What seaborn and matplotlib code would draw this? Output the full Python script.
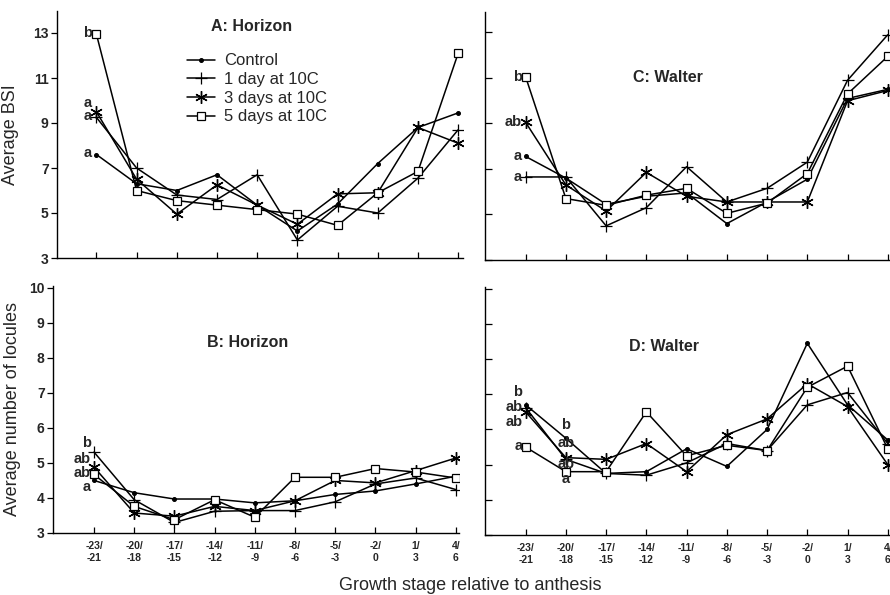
import numpy as np
import pandas as pd
import matplotlib
matplotlib.use("Agg")
import matplotlib.pyplot as plt
import seaborn as sns

# growth stage (days relative to anthesis)
stages = ["-23/\n-21", "-20/\n-18", "-17/\n-15", "-14/\n-12", "-11/\n-9",
          "-8/\n-6", "-5/\n-3", "-2/\n0", "1/\n3", "4/\n6"]
treatments = ["Control", "1 day at 10C", "3 days at 10C", "5 days at 10C"]

# A: Horizon, average BSI
horizon_bsi_control = [7.6, 6.3, 6.0, 6.7, 5.35, 4.2, 5.4, 7.2, 8.8, 9.45]
horizon_bsi_1day = [9.25, 7.0, 5.8, 5.6, 6.7, 3.8, 5.3, 5.0, 6.55, 8.7]
horizon_bsi_3day = [9.5, 6.5, 4.95, 6.25, 5.35, 4.5, 5.85, 5.9, 8.8, 8.1]
horizon_bsi_5day = [12.95, 6.0, 5.55, 5.35, 5.15, 4.95, 4.45, 5.9, 6.85, 12.1]

# C: Walter, average BSI
walter_bsi_control = [7.55, 6.6, 5.45, 5.8, 5.95, 4.6, 5.55, 6.55, 10.1, 10.5]
walter_bsi_1day = [6.65, 6.65, 4.5, 5.3, 7.1, 5.55, 6.15, 7.3, 10.9, 12.9]
walter_bsi_3day = [9.05, 6.3, 5.15, 6.85, 5.8, 5.55, 5.55, 5.55, 10.0, 10.45]
walter_bsi_5day = [11.05, 5.7, 5.4, 5.85, 6.15, 5.05, 5.5, 6.8, 10.3, 11.95]

# B: Horizon, average number of locules
horizon_loc_control = [4.5, 4.15, 3.97, 3.97, 3.86, 3.92, 4.1, 4.2, 4.4, 4.62]
horizon_loc_1day = [5.31, 3.95, 3.3, 3.62, 3.64, 3.64, 3.89, 4.4, 4.57, 4.24]
horizon_loc_3day = [4.88, 3.57, 3.48, 3.76, 3.64, 3.92, 4.5, 4.43, 4.78, 5.14]
horizon_loc_5day = [4.67, 3.76, 3.38, 3.95, 3.45, 4.59, 4.59, 4.84, 4.74, 4.57]

# D: Walter, average number of locules
walter_loc_control = [6.7, 5.75, 4.75, 4.8, 5.45, 4.95, 6.0, 8.45, 6.7, 5.7]
walter_loc_1day = [6.62, 5.15, 4.75, 4.7, 5.05, 5.6, 5.4, 6.7, 7.05, 5.6]
walter_loc_3day = [6.5, 5.2, 5.15, 5.6, 4.8, 5.85, 6.3, 7.3, 6.65, 5.0]
walter_loc_5day = [5.5, 4.8, 4.8, 6.5, 5.25, 5.55, 5.4, 7.2, 7.8, 5.45]

# mean separation letters
letters_A = [("b", 13.0), ("a", 9.9), ("a", 9.3), ("a", 7.65)]
letters_C = [("b", 11.05), ("ab", 9.05), ("a", 7.55), ("a", 6.65)]
letters_B = [("b", 5.58), ("ab", 5.1), ("ab", 4.7), ("a", 4.3)]
letters_D0 = [("b", 7.06), ("ab", 6.63), ("ab", 6.22), ("a", 5.54)]
letters_D1 = [("b", 6.12), ("ab", 5.62), ("ab", 5.02), ("a", 4.6)]

sns.set_theme(style="ticks")
plt.rcParams["font.family"] = ["Liberation Sans", "DejaVu Sans"]

styles = {
    "Control": dict(marker="o", markersize=2.8, markerfacecolor="black", markeredgecolor="black"),
    "1 day at 10C": dict(marker="+", markersize=9, markeredgewidth=0.9, markeredgecolor="black"),
    "3 days at 10C": dict(marker=(6, 2, 0), markersize=9, markeredgewidth=1.0, markeredgecolor="black"),
    "5 days at 10C": dict(marker="s", markersize=6, markerfacecolor="white", markeredgecolor="black",
                          markeredgewidth=0.9),
}

fig = plt.figure(figsize=(8.9, 5.95), dpi=100)


def px_axes(left, top, right, bottom):
    return fig.add_axes([left / 890, 1 - bottom / 595, (right - left) / 890, (bottom - top) / 595])


ax_a = px_axes(57, 10.5, 463, 258)
ax_c = px_axes(485, 12, 891, 260)
ax_b = px_axes(53, 286, 459, 533)
ax_d = px_axes(485, 287, 891, 535)

panels = [
    (ax_a, [horizon_bsi_control, horizon_bsi_1day, horizon_bsi_3day, horizon_bsi_5day], "A: Horizon"),
    (ax_c, [walter_bsi_control, walter_bsi_1day, walter_bsi_3day, walter_bsi_5day], "C: Walter"),
    (ax_b, [horizon_loc_control, horizon_loc_1day, horizon_loc_3day, horizon_loc_5day], "B: Horizon"),
    (ax_d, [walter_loc_control, walter_loc_1day, walter_loc_3day, walter_loc_5day], "D: Walter"),
]

x = np.arange(len(stages))
for ax, series, title in panels:
    df = pd.DataFrame({"stage": np.tile(x, 4),
                       "value": np.concatenate(series),
                       "treatment": np.repeat(treatments, len(x))})
    for t in treatments:
        sub = df[df["treatment"] == t]
        sns.lineplot(data=sub, x="stage", y="value", ax=ax, color="black", linewidth=1.1,
                     label=t, legend=False, **styles[t])
    sns.despine(ax=ax)
    for sp in ax.spines.values():
        sp.set_linewidth(1.0)
        sp.set_color("black")
    ax.set_xlabel("")
    ax.set_ylabel("")
    ax.set_xticks(x)
    ax.tick_params(axis="x", direction="in", length=4, width=0.9, color="black")
    ax.text(0.5, 0, title, transform=ax.transAxes, ha="center", va="center",
            fontsize=11.5, fontweight="bold")

# title positions (axes coords)
ax_a.texts[-1].set_position((0.48, 0.935))
ax_c.texts[-1].set_position((0.45, 0.735))
ax_b.texts[-1].set_position((0.48, 0.77))
ax_d.texts[-1].set_position((0.44, 0.76))

ax_a.set_xlim(-0.98, 9.12)
ax_c.set_xlim(-1.01, 9.08)
ax_b.set_xlim(-1.02, 9.08)
ax_d.set_xlim(-1.01, 9.08)
ax_a.set_ylim(3, 14)
ax_c.set_ylim(3, 13.9)
ax_b.set_ylim(3, 10.05)
ax_d.set_ylim(3, 10.05)

for ax in (ax_a, ax_c):
    ax.set_yticks([3, 5, 7, 9, 11, 13])
    ax.set_xticklabels([])
for ax in (ax_b, ax_d):
    ax.set_yticks(range(3, 11))
    ax.set_xticklabels(stages, fontsize=7.5, fontweight="bold", linespacing=1.25)
    ax.tick_params(axis="x", pad=6)

for ax in (ax_a, ax_b):
    ax.tick_params(axis="y", direction="out", length=4, width=0.9, pad=2, color="black",
                   labelsize=10)
    for lbl in ax.get_yticklabels():
        lbl.set_fontweight("bold")
for ax in (ax_c, ax_d):
    ax.tick_params(axis="y", direction="in", length=5, width=0.9, color="black", labelleft=False)

ax_a.set_ylabel("Average BSI", fontsize=13, labelpad=10)
ax_b.set_ylabel("Average number of locules", fontsize=13, labelpad=6)
fig.text(0.528, 1 - 585 / 595, "Growth stage relative to anthesis", ha="center", va="center",
         fontsize=13)


def letters(ax, xpos, items, ha="right"):
    for txt, yv in items:
        ax.text(xpos, yv, txt, ha=ha, va="center", fontsize=10.5, fontweight="bold")


letters(ax_a, -0.12, letters_A)
letters(ax_c, -0.1, letters_C)
letters(ax_b, -0.08, letters_B)
letters(ax_d, -0.08, letters_D0)
letters(ax_d, 1.0, letters_D1, ha="center")

handles = ax_a.get_lines()[:4]
ax_a.legend(handles, treatments, loc="upper left", bbox_to_anchor=(0.3, 0.86), frameon=False,
            fontsize=12, handlelength=1.7, handletextpad=0.5, labelspacing=0.22, borderpad=0)

fig.savefig("out.png", dpi=100)
